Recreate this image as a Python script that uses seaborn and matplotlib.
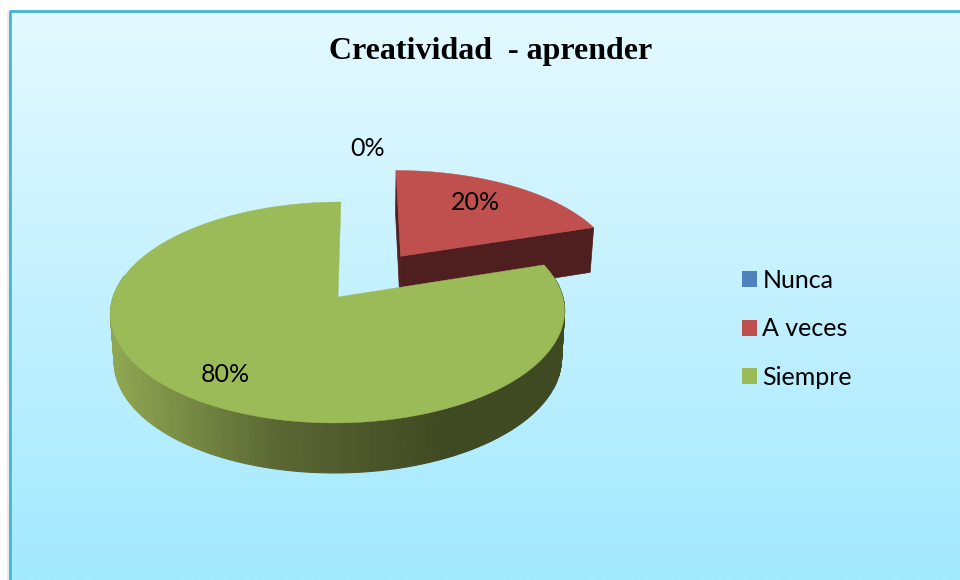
import numpy as np
import seaborn as sns
import matplotlib.pyplot as plt
from matplotlib.patches import Patch

# datos
categorias = ['Nunca', 'A veces', 'Siempre']
valores = [0, 20, 80]
titulo = 'Creatividad  - aprender'

colores = ['#4F81BD', '#C0504D', '#9BBB59']
color_pared_roja = '#4F1F1F'

sns.set_theme(style='white')
plt.rcParams['font.family'] = ['Lato', 'DejaVu Sans']

# perspectiva del disco, en pixeles de la imagen
cx, cy = 338, 297
vx = 362
A, B, k = 224.8, 108.3, 0.14
explode = [0, 0.49, 0]
escala_base = 0.985


def proyectar(X, Y):
    w = 1 + k * Y
    return vx + (A * X + (cx - vx)) / w, cy - B * Y / w


def proyectar_base(X, Y):
    x, y = proyectar(X, Y)
    return vx + (x - vx) * escala_base, y + 47 - 3 * Y


fig = plt.figure(figsize=(9.6, 5.8), dpi=100, facecolor='white')
ax = fig.add_axes([0, 0, 1, 1])
ax.set_xlim(0, 960)
ax.set_ylim(580, 0)
ax.axis('off')

# fondo degradado y borde
fondo = np.array(sns.blend_palette(['#E4F9FF', '#A3E9FF'], 256))[:, None, :]
ax.imshow(fondo, extent=(10, 960, 580, 10), aspect='auto', zorder=0)
ax.plot([8, 8], [12, 580], color='#E8E8E8', lw=2, zorder=0.5, solid_capstyle='butt')
ax.plot([10, 10, 960], [580, 10.5, 10.5], color='#45B5D5', lw=2, zorder=1)

# rebanadas a partir de los valores
acum = np.cumsum([0] + valores) / sum(valores) * 2 * np.pi
degradado = sns.blend_palette(['#8FA752', '#5A6733', '#3F4A22'], 100)

for i in [1, 2]:
    t = np.linspace(acum[i], acum[i + 1], max(int(np.degrees(acum[i + 1] - acum[i])), 2))
    medio = (acum[i] + acum[i + 1]) / 2
    u = explode[i] * np.sin(medio)
    v = explode[i] * np.cos(medio)
    X, Y = u + np.sin(t), v + np.cos(t)
    xs, ys = proyectar(X, Y)
    xb, yb = proyectar_base(X, Y)
    x0, y0 = proyectar(u, v)
    x0b, y0b = proyectar_base(u, v)

    if i == 1:
        # paredes oscuras de la rebanada separada
        ax.fill([x0, xs[-1], xb[-1], x0b], [y0, ys[-1], yb[-1], y0b],
                color=color_pared_roja, lw=0.5, zorder=2)
        ax.fill([x0, xs[0], xb[0], x0b], [y0, ys[0], yb[0], y0b],
                color=color_pared_roja, lw=0.5, zorder=2)
        ax.fill(np.r_[x0, xs], np.r_[y0, ys], color=colores[i], lw=0.3, zorder=3)
    else:
        # pared curva con sombreado segun x, solo la parte frontal
        for j in range(len(t) - 1):
            if np.cos(t[j]) > 0.2:
                continue
            xm = (xs[j] + xs[j + 1]) / 2
            idx = int(np.clip((xm - 110) / (440 - 110), 0, 1) * 99)
            ax.fill([xs[j], xs[j + 1], xb[j + 1], xb[j]],
                    [ys[j], ys[j + 1], yb[j + 1], yb[j]],
                    color=degradado[idx], lw=0.8, zorder=4)
        ax.fill(np.r_[x0, xs], np.r_[y0, ys], color=colores[i], lw=0.3, zorder=5)

# etiquetas de porcentaje
pos_etiquetas = [(368, 148), (475, 203), (225, 374)]
for val, (px, py) in zip(valores, pos_etiquetas):
    ax.text(px, py, f'{val}%', ha='center', va='center', fontsize=18, color='black', zorder=6)

ax.text(490.5, 52, titulo, ha='center', va='center', fontsize=23, fontweight='bold',
        family=['Liberation Serif'], color='black', zorder=6)

# leyenda
handles = [Patch(facecolor=c, edgecolor='none', label=n) for c, n in zip(colores, categorias)]
leg = ax.legend(handles=handles, loc='center left', bbox_to_anchor=(742 / 960, 1 - 329 / 580),
                frameon=False, fontsize=18, handlelength=0.6, handleheight=0.6,
                handletextpad=0.22, labelspacing=1.02, borderpad=0, borderaxespad=0)
for txt in leg.get_texts():
    txt.set_color('black')

fig.savefig('out.png', dpi=100, facecolor='white')
